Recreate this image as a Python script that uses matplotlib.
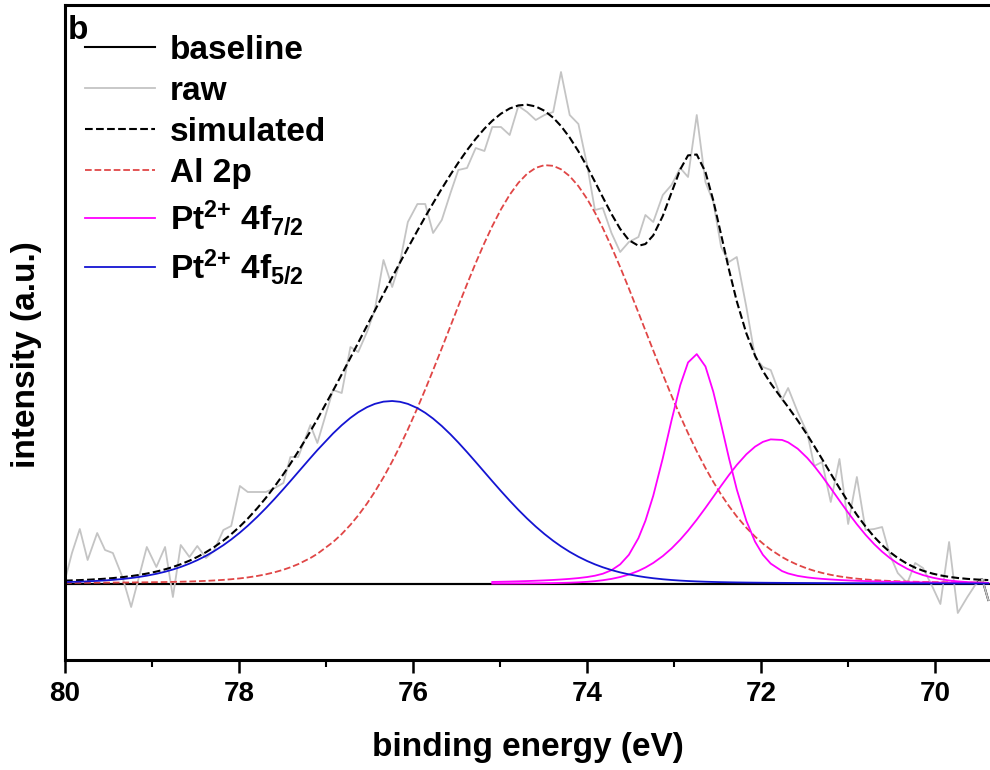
import numpy as np
import matplotlib
matplotlib.use('Agg')
import matplotlib.pyplot as plt

plt.rcParams['font.family'] = ['Liberation Sans', 'DejaVu Sans']
plt.rcParams['font.weight'] = 'bold'
plt.rcParams['mathtext.default'] = 'regular'

# raw XPS spectrum (binding energy in eV, intensity in a.u. above baseline)
raw_energy = [80.00, 79.92, 79.83, 79.74, 79.63, 79.54, 79.45, 79.34, 79.24, 79.15,
              79.06, 78.95, 78.85, 78.76, 78.67, 78.57, 78.48, 78.38, 78.29, 78.18,
              78.09, 77.99, 77.90, 77.79, 77.69, 77.59, 77.49, 77.41, 77.32, 77.18,
              77.10, 76.92, 76.82, 76.72, 76.63, 76.53, 76.44, 76.34, 76.24, 76.15,
              76.06, 75.95, 75.86, 75.77, 75.67, 75.57, 75.48, 75.38, 75.28, 75.18,
              75.09, 74.99, 74.89, 74.79, 74.69, 74.59, 74.49, 74.39, 74.30, 74.20,
              74.10, 74.00, 73.91, 73.82, 73.72, 73.62, 73.52, 73.41, 73.33, 73.24,
              73.13, 73.03, 72.93, 72.84, 72.74, 72.64, 72.55, 72.46, 72.37, 72.28,
              72.17, 72.07, 71.98, 71.89, 71.76, 71.69, 71.58, 71.47, 71.39, 71.30,
              71.20, 71.10, 71.00, 70.90, 70.80, 70.70, 70.61, 70.52, 70.43, 70.32,
              70.23, 70.14, 70.03, 69.94, 69.84, 69.74, 69.63, 69.54, 69.46, 69.39]
raw_counts = [4, 31, 55, 24, 51, 34, 31, 7, -23, 7,
              37, 17, 37, -13, 39, 27, 38, 26, 33, 54,
              58, 98, 92, 92, 92, 96, 101, 127, 127, 159,
              141, 194, 191, 237, 232, 252, 274, 324, 297, 322,
              362, 380, 380, 351, 364, 391, 414, 416, 436, 433,
              457, 457, 449, 478, 472, 464, 469, 472, 512, 469,
              460, 419, 374, 376, 351, 332, 342, 347, 369, 362,
              389, 399, 416, 407, 469, 402, 382, 337, 322, 327,
              277, 227, 217, 214, 184, 196, 172, 151, 118, 122,
              82, 125, 60, 107, 54, 55, 57, 29, 11, 1,
              21, 16, -3, -20, 42, -29, -13, -1, 5, -16]

# baseline
base_energy = [80.00, 69.54, 69.46, 69.39]
base_counts = [0, 0, 5, -16]

# fitted components: centre (eV), height, FWHM (eV), Lorentzian fraction
al_peak = (74.46, 419, 2.66, 0.05)
pt72_peak = (72.75, 230, 0.82, 0.30)
pt71_peak = (71.84, 145, 1.66, 0.05)
pt76_peak = (76.25, 183, 2.55, 0.08)


def pseudo_voigt(x, centre, height, fwhm, eta):
    d = (x - centre) / (fwhm / 2)
    g = np.exp(-np.log(2) * d ** 2)
    l = 1 / (1 + d ** 2)
    return height * ((1 - eta) * g + eta * l)


e = np.array(raw_energy)
al = pseudo_voigt(e, *al_peak)
pt72 = pseudo_voigt(e, *pt72_peak)
pt71 = pseudo_voigt(e, *pt71_peak)
pt76 = pseudo_voigt(e, *pt76_peak)
simulated = al + pt72 + pt71 + pt76
pt_range = e <= 75.1

fig = plt.figure(figsize=(9.9, 7.7), dpi=100)
ax = fig.add_axes([65 / 990, 110 / 770, 925 / 990, 655 / 770])

ax.plot(base_energy, base_counts, color='black', lw=1.5, label='baseline')
ax.plot(e, raw_counts, color='#c4c4c4', lw=1.3, label='raw')
ax.plot(e, simulated, color='black', lw=1.5, ls='--', label='simulated')
ax.plot(e, al, color='#e04646', lw=1.3, ls='--', label='Al 2p')
ax.plot(e[pt_range], pt72[pt_range], color='#ff00ff', lw=1.3, label='Pt$^{2{+}}$ 4f$_{7/2}$')
ax.plot(e[pt_range], pt71[pt_range], color='#ff00ff', lw=1.3)
ax.plot(e, pt76, color='#1414d2', lw=1.3, label='Pt$^{2{+}}$ 4f$_{5/2}$')
ax.axhline(0, color='black', lw=1.5, zorder=1)

ax.set_xlim(80, 69.37)
ax.set_ylim(-76, 579)
ax.set_xticks([80, 78, 76, 74, 72, 70])
ax.set_xticks([79, 77, 75, 73, 71], minor=True)
ax.set_yticks([])
ax.tick_params(axis='x', which='major', length=9, width=1.8, pad=6)
ax.tick_params(axis='x', which='minor', length=5, width=1.5)
for lab in ax.get_xticklabels():
    lab.set_fontweight('bold')
    lab.set_fontsize(20)
    lab.set_family(['Liberation Sans Narrow', 'Liberation Sans'])
for side in ['left', 'top', 'bottom']:
    ax.spines[side].set_linewidth(2.2)
ax.spines['right'].set_visible(False)

ax.set_xlabel('binding energy (eV)', fontsize=24, fontweight='bold', labelpad=18)
ax.set_ylabel('intensity (a.u.)', fontsize=24, fontweight='bold')
ax.yaxis.set_label_coords(-0.025, 0.466)

ax.text(0.003, 0.985, 'b', transform=ax.transAxes, fontsize=24, fontweight='bold',
        va='top', ha='left')

ax.legend(loc='upper left', bbox_to_anchor=(0.0, 0.985), frameon=False,
          prop={'size': 24, 'weight': 'bold'}, handlelength=2.1, handletextpad=0.45,
          labelspacing=0.3, borderaxespad=0.2)

fig.savefig('out.png', dpi=100)
